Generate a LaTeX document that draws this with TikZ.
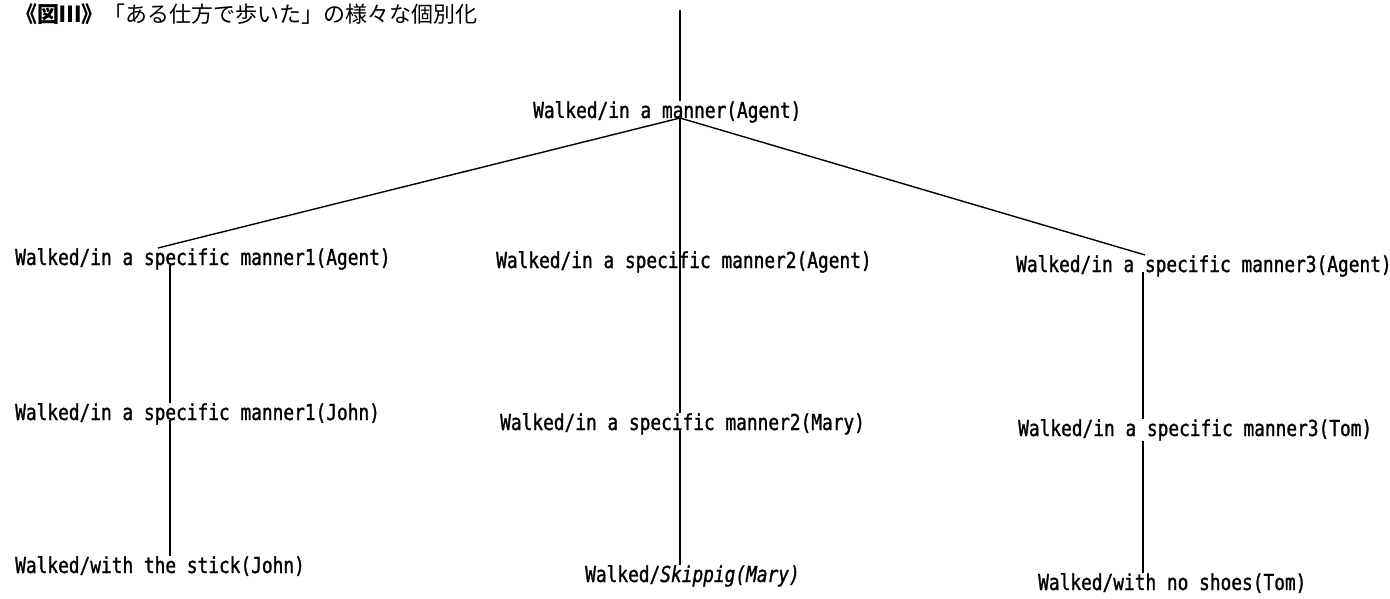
\documentclass[tikz,border=0pt]{standalone}
\usepackage{fontspec}
\newfontfamily\jpfont{Noto Sans CJK JP}
\newfontfamily\treefont[FakeStretch=0.81,FakeBold=1.2]{DejaVu Sans Mono}
\begin{document}
\begin{tikzpicture}[x=1pt,y=-1pt,
  lbl/.style={anchor=base west, inner sep=0pt, font=\treefont\fontsize{22}{24}\selectfont},
  ttl/.style={anchor=base west, inner sep=0pt, font=\jpfont\fontsize{22}{26}\selectfont},
  edge/.style={draw=black, line width=1.4pt}]
\useasboundingbox (0,0) rectangle (1390,599);

% heading
\node[ttl] (title) at (15,23) {{\bfseries 《図Ⅲ》}「ある仕方で歩いた」の様々な個別化};

% tree labels
\node[lbl] (root) at (533,118) {Walked/in a manner(Agent)};

\node[lbl] (a1) at (15,265)   {Walked/in a specific manner1(Agent)};
\node[lbl] (b1) at (496,268)  {Walked/in a specific manner2(Agent)};
\node[lbl] (c1) at (1016,272) {Walked/in a specific manner3(Agent)};

\node[lbl] (a2) at (15,420)   {Walked/in a specific manner1(John)};
\node[lbl] (b2) at (500,430)  {Walked/in a specific manner2(Mary)};
\node[lbl] (c2) at (1018,436) {Walked/in a specific manner3(Tom)};

\node[lbl] (a3) at (15,573)   {Walked/with the stick(John)};
\node[lbl] (b3) at (585,582)  {Walked/{\itshape Skippig(Mary)}};
\node[lbl] (c3) at (1038,590) {Walked/with no shoes(Tom)};

% column positions of the vertical strokes
\coordinate (colA) at (170,0);
\coordinate (colB) at (680,0);
\coordinate (colC) at (1143,0);
\coordinate (slA) at (158,0);
\coordinate (slC) at (1145,0);
\coordinate (top) at (680,10);
\coordinate (apex) at (root.base -| colB);

% connectors
\draw[edge] (top) -- (root.north -| colB);
\draw[edge] (apex) -- (a1.north -| slA);
\draw[edge] (apex) -- (c1.north -| slC);

\draw[edge] (apex) -- (b1.base -| colB) -- (b2.north -| colB);
\draw[edge] (b2.base -| colB) -- (b3.north -| colB);

\draw[edge] (a1.base -| colA) -- (a2.north -| colA);
\draw[edge] (a2.base -| colA) -- (a3.north -| colA);

\draw[edge] (c1.base -| colC) -- (c2.north -| colC);
\draw[edge] (c2.south -| colC) -- (c3.north -| colC);
\end{tikzpicture}
\end{document}
